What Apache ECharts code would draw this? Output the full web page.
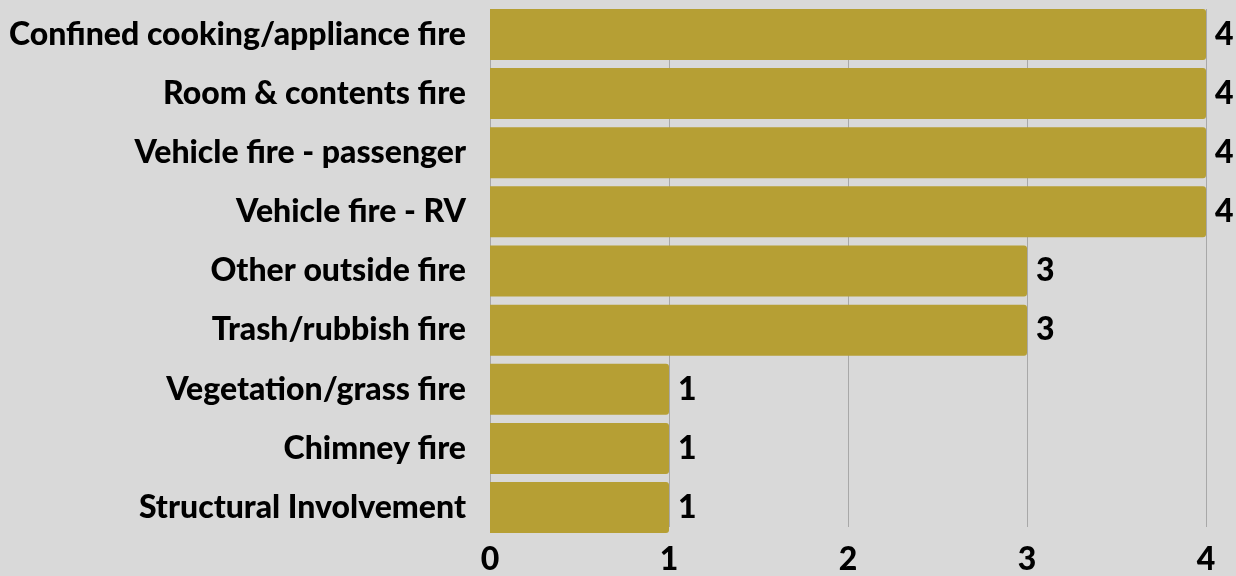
<!DOCTYPE html>
<html>
<head>
<meta charset="utf-8">
<title>Fire incidents</title>
<script src="https://cdn.jsdelivr.net/npm/echarts@6/dist/echarts.min.js"></script>
<style>
    html, body { margin: 0; padding: 0; background: #d9d9d9; }
    #chart { width: 1236px; height: 576px; }
</style>
</head>
<body>
<div id="chart"></div>
<script>
// categories top to bottom
var categories = [
    'Confined cooking/appliance fire',
    'Room & contents fire',
    'Vehicle fire - passenger',
    'Vehicle fire - RV',
    'Other outside fire',
    'Trash/rubbish fire',
    'Vegetation/grass fire',
    'Chimney fire',
    'Structural Involvement'
];
var counts = [4, 4, 4, 4, 3, 3, 1, 1, 1];
var xTicks = [0, 1, 2, 3, 4];

var labelFont = {
    color: '#000',
    fontSize: 32,
    fontWeight: 900
};

var myChart = echarts.init(document.getElementById('chart'));
myChart.setOption({
    backgroundColor: '#d9d9d9',
    textStyle: { fontFamily: 'Lato' },
    // grid 0: bars, grid 1: gridlines + tick labels (lines stop at the bar edges)
    grid: [
        { left: 490, right: 30, top: 4.85, bottom: 38.85 },
        { left: 490, right: 30, top: 9, bottom: 43 }
    ],
    xAxis: [
        {
            gridIndex: 0,
            type: 'value',
            min: xTicks[0],
            max: xTicks[xTicks.length - 1],
            interval: 1,
            show: false
        },
        {
            gridIndex: 1,
            type: 'value',
            min: xTicks[0],
            max: xTicks[xTicks.length - 1],
            interval: 1,
            axisLine: { show: false },
            axisTick: { show: false },
            axisLabel: Object.assign({ margin: 17 }, labelFont),
            splitLine: {
                show: true,
                lineStyle: { color: '#a8a8a8', width: 1 }
            }
        }
    ],
    yAxis: [
        {
            gridIndex: 0,
            type: 'category',
            inverse: true,
            data: categories,
            axisLine: { show: false },
            axisTick: { show: false },
            axisLabel: Object.assign({ margin: 24 }, labelFont)
        },
        {
            gridIndex: 1,
            type: 'value',
            min: 0,
            max: 1,
            show: false
        }
    ],
    series: [{
        type: 'bar',
        xAxisIndex: 0,
        yAxisIndex: 0,
        data: counts,
        barWidth: 51,
        z: 3,
        itemStyle: {
            color: '#b69f34',
            borderRadius: [0, 3, 3, 0]
        },
        label: Object.assign({
            show: true,
            position: 'right',
            distance: 9
        }, labelFont)
    }]
});
</script>
</body>
</html>
